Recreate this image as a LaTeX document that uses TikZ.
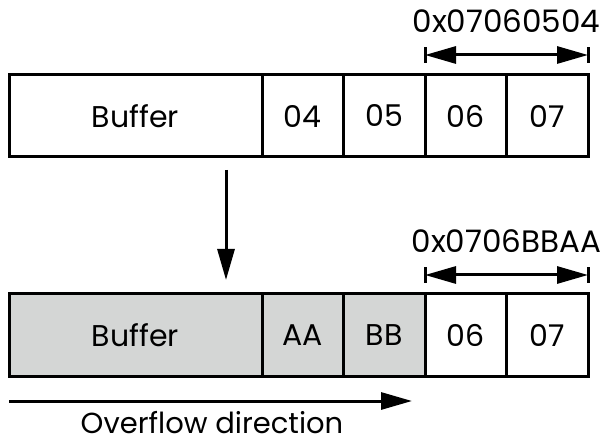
\documentclass[tikz,border=0pt]{standalone}
\usepackage{fontspec}
\setmainfont{Poppins}
\usetikzlibrary{
  arrows.meta,
  positioning,
  calc
}
\definecolor{ovGray}{HTML}{D4D6D5}
\tikzset{
  cellbox/.style={
    draw, line width=3pt, minimum height=82pt, inner sep=0pt, outer sep=0pt,
    font=\fontsize{30}{36}\selectfont
  },
  bufbox/.style={cellbox, minimum width=253pt},
  bytebox/.style={cellbox, minimum width=81.5pt},
  hit/.style={fill=ovGray},
  dimline/.style={{Triangle[length=31pt,width=17pt]}-{Triangle[length=31pt,width=17pt]}, line width=3pt},
  dimbar/.style={line width=3pt},
  flow/.style={-{Triangle[length=31pt,width=17pt]}, line width=3pt},
  tag/.style={font=\fontsize{31}{37}\selectfont, anchor=base, inner sep=0pt}
}
\begin{document}
\begin{tikzpicture}[x=1pt, y=1pt]
  \useasboundingbox (0,0) rectangle (602,442);
  % stack before the copy
  \node[bufbox] (tbuf) at (135.5,326) {Buffer};
  \foreach \i/\val in {0/04, 1/05, 2/06, 3/07}{
    \node[bytebox] (t\i) at ({302.75+\i*81.5}, 326) {\val};
  }
  \coordinate (ta) at ($(t2.north west)+(0,20)$);
  \coordinate (tb) at ($(t3.north east)+(0,20)$);
  \draw[dimline] (ta) -- (tb);
  \draw[dimbar] ($(ta)+(0,-8)$) -- ($(ta)+(0,8)$);
  \draw[dimbar] ($(tb)+(0,-8)$) -- ($(tb)+(0,8)$);
  \node[tag] (tval) at ($(ta)!0.5!(tb)+(0,22)$) {0x07060504};
  % stack after the copy
  \node[bufbox, hit] (bbuf) at (135.5,107) {Buffer};
  \foreach \i/\val/\sty in {0/AA/hit, 1/BB/hit, 2/06/, 3/07/}{
    \node[bytebox, \sty] (b\i) at ({302.75+\i*81.5}, 107) {\val};
  }
  \coordinate (ba) at ($(b2.north west)+(0,19)$);
  \coordinate (bb) at ($(b3.north east)+(0,19)$);
  \draw[dimline] (ba) -- (bb);
  \draw[dimbar] ($(ba)+(0,-8)$) -- ($(ba)+(0,8)$);
  \draw[dimbar] ($(bb)+(0,-8)$) -- ($(bb)+(0,8)$);
  \node[tag] (bval) at ($(ba)!0.5!(bb)+(0,22)$) {0x0706BBAA};
  \draw[flow] ($(tbuf.south west)+(217,-13)$) -- ($(bbuf.north west)+(217,14)$);
  % direction of the overflow
  \coordinate (ofa) at ($(bbuf.south west)+(0,-25)$);
  \coordinate (ofb) at ($(ofa)+(403,0)$);
  \draw[flow] (ofa) -- (ofb);
  \node[tag, font=\fontsize{29}{35}\selectfont] (oftext) at (212,9) {Overflow direction};
\end{tikzpicture}
\end{document}
